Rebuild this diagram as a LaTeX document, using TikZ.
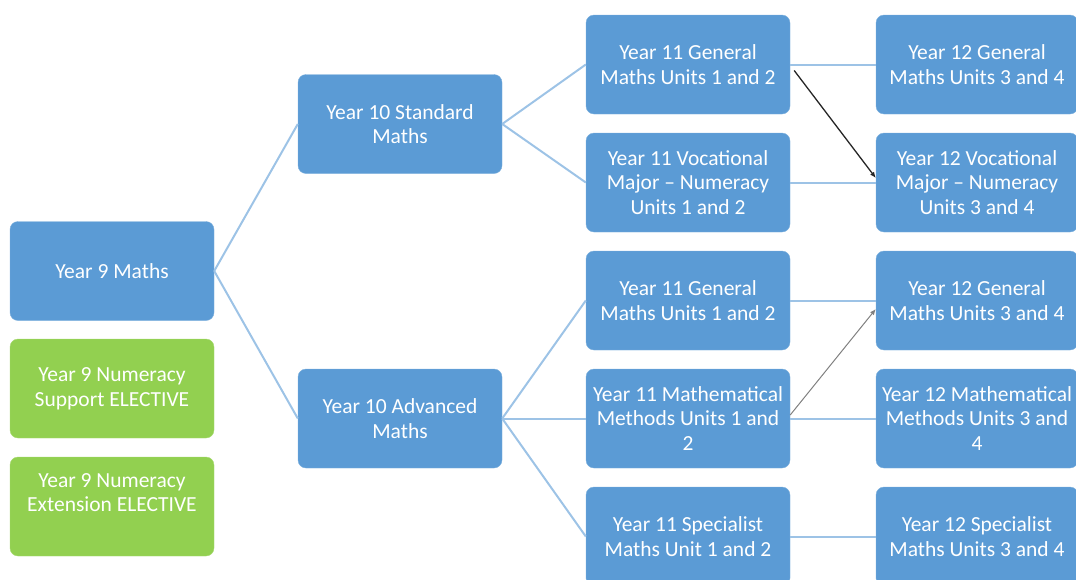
\documentclass[tikz,border=0pt]{standalone}
\usepackage{fontspec}
\setmainfont{Carlito}
\usetikzlibrary{arrows.meta}

\definecolor{boxblue}{RGB}{91,155,213}
\definecolor{boxgreen}{RGB}{146,208,80}
\definecolor{linkblue}{RGB}{157,195,230}

\tikzset{
  box/.style={fill=boxblue, draw=boxblue!80!white, rounded corners=8pt, text=white,
    minimum width=204pt, minimum height=99pt, inner sep=1pt, align=center,
    font=\fontsize{21.5}{24.5}\selectfont},
  elective/.style={box, fill=boxgreen, draw=boxgreen!80!white},
  link/.style={draw=linkblue, line width=2pt},
  jump/.style={-{Latex[length=6pt,width=5pt]}, line width=1.3pt}
}

\begin{document}
\begin{tikzpicture}[x=1pt,y=-1pt]
        \def \colA {112}
        \def \colB {400}
        \def \colC {688}
        \def \colD {976}
        \def \rowgap {118} % rows of year 11 and 12

        \useasboundingbox (0,0) rectangle (1076,579);
        \clip (0,0) rectangle (1076,579);

        \node[box] at (\colA,271) (y9) {Year 9 Maths};
        \node[elective] at (\colA,388.5) (sup) {Year 9 Numeracy\\Support ELECTIVE};
        \node[elective, text depth=28pt] at (\colA,506.5) (ext) {Year 9 Numeracy\\Extension ELECTIVE};

        \node[box] at (\colB,124) (std) {Year 10 Standard\\Maths};
        \node[box] at (\colB,418.5) (adv) {Year 10 Advanced\\Maths};

        \foreach \t [count=\i] in {{Year 11 General\\Maths Units 1 and 2},
            {Year 11 Vocational\\Major -- Numeracy\\Units 1 and 2},
            {Year 11 General\\Maths Units 1 and 2},
            {Year 11 Mathematical\\Methods Units 1 and\\2},
            {Year 11 Specialist\\Maths Unit 1 and 2}}{
          \node[box] at (\colC,{64.5+(\i-1)*\rowgap}) (u\i) {\t};
        }
        \foreach \t [count=\i] in {{Year 12 General\\Maths Units 3 and 4},
            {Year 12 Vocational\\Major -- Numeracy\\Units 3 and 4},
            {Year 12 General\\Maths Units 3 and 4},
            {Year 12 Mathematical\\Methods Units 3 and\\4},
            {Year 12 Specialist\\Maths Units 3 and 4}}{
          \node[box, minimum width=202pt] at (\colD+1,{64.5+(\i-1)*\rowgap}) (v\i) {\t};
          \draw[link] (u\i.east)--(v\i.west);
        }

        \draw[link] (y9.east)--(std.west);
        \draw[link] (y9.east)--(adv.west);
        \foreach \i in {1,2}
          \draw[link] (std.east)--(u\i.west);
        \foreach \i in {3,4,5}
          \draw[link] (adv.east)--(u\i.west);

        \draw[jump, black!85] ([xshift=4pt,yshift=-6pt]u1.east)--([yshift=4.5pt]v2.west);
        \draw[jump, gray, line width=1pt] ([yshift=3.5pt]u4.east)--([yshift=-8.5pt]v3.west);
\end{tikzpicture}
\end{document}
